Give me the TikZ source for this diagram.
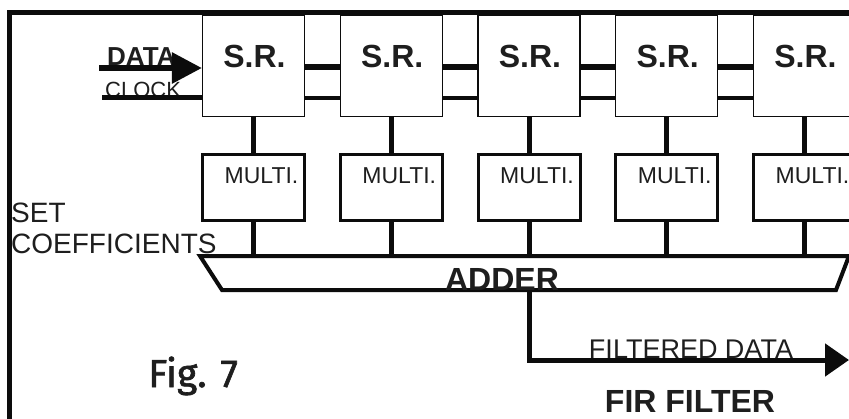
\documentclass[tikz,border=0pt]{standalone}
\usepackage{fontspec}
\setmainfont{Liberation Sans}
\newfontfamily\figfont{Fira Sans}[FakeBold=1.6]
\usepackage{tikz}
\usetikzlibrary{calc,arrows.meta,positioning}
\definecolor{firInk}{RGB}{12,12,12}
\definecolor{firText}{RGB}{30,30,30}

\tikzset{
  srbox/.style={draw=firInk, line width=1.2pt, fill=white, minimum width=102pt, minimum height=101pt, inner sep=0pt},
  mulbox/.style={draw=firInk, line width=3pt, fill=white, minimum width=102pt, minimum height=66pt, inner sep=0pt},
  srlabel/.style={text=firText, inner sep=0pt, font=\fontsize{32}{32}\selectfont\bfseries},
  mullabel/.style={text=firText, inner sep=0pt, font=\fontsize{23}{23}\selectfont},
  databus/.style={firInk, line width=6pt},
  clkbus/.style={firInk, line width=4.5pt},
  tapline/.style={firInk, line width=5pt},
}

\begin{document}
\begin{tikzpicture}[x=1pt, y=-1pt]
\useasboundingbox (0,0) rectangle (849,418);
\fill[white] (0,0) rectangle (849,418);
\clip (0,0) rectangle (849,418);

% outer frame
\draw[firInk, line width=4.5pt] (7,12.5)--(860,12.5);
\draw[firInk, line width=4.5pt] (9.5,10)--(9.5,430);

% shift registers and multipliers
\foreach \i in {1,...,5} {
  \pgfmathsetmacro{\cx}{253.5+137.75*(\i-1)}
  \node[srbox] (sr\i) at (\cx,66) {};
  \node[srlabel, anchor=base] (srt\i) at (\cx+1,67) {S.R.};
  \node[mulbox] (m\i) at (\cx,187.5) {};
  \node[mullabel, anchor=base] (mt\i) at (\cx+8,183) {MULTI.};
}

% adder outline
\coordinate (adtl) at (200,256);
\coordinate (adtr) at (849,256);
\coordinate (adbr) at (836,290);
\coordinate (adbl) at (222,290);
\draw[firInk, line width=4pt, line join=miter] (adtl)--(adtr)--(adbr)--(adbl)--cycle;
\node[text=firText, inner sep=0pt, anchor=base, font=\fontsize{32}{32}\selectfont\bfseries] (adder) at (502,290) {ADDER};

% busses between registers
\foreach \i/\j in {1/2,2/3,3/4,4/5} {
  \draw[databus] ([yshift=-1pt]sr\i.east) -- ([yshift=-1pt]sr\j.west);
  \draw[clkbus] ([yshift=-32pt]sr\i.east) -- ([yshift=-32pt]sr\j.west);
}
\foreach \i in {1,...,5} {
  \draw[tapline] (sr\i.south) -- (m\i.north);
  \draw[tapline] (m\i.south) -- (m\i.south |- adtl);
}

% inputs
\node[text=firText, inner sep=0pt, anchor=base west, font=\fontsize{26}{26}\selectfont\bfseries] (datal) at (107,65) {DATA};
\node[text=firText, inner sep=0pt, anchor=base west, font=\fontsize{22}{22}\selectfont] (clockl) at (105,97) {CLOCK};
\coordinate (din) at (99,68);
\coordinate (cin) at (102,97.5);
\draw[databus, -{Triangle[length=30pt, width=30pt]}] (din) -- (din -| sr1.west);
\draw[clkbus] (cin) -- (cin -| sr1.west);

\node[text=firText, inner sep=0pt, anchor=base west, font=\fontsize{28}{28}\selectfont] (setl) at (11,222) {SET};
\node[text=firText, inner sep=0pt, anchor=base west, font=\fontsize{28}{28}\selectfont] (coefl) at (11,253) {COEFFICIENTS};

% output
\coordinate (fout) at (849,360);
\draw[tapline, -{Triangle[length=24pt, width=32pt]}] (m3.south |- adbl) |- (fout);
\node[text=firText, inner sep=0pt, anchor=base, font=\fontsize{27}{27}\selectfont] (filtl) at (691,358) {FILTERED DATA};
\node[text=firText, inner sep=0pt, anchor=base, font=\fontsize{32}{32}\selectfont\bfseries] (firl) at (690,412) {FIR FILTER};
\node[text=firText, inner sep=0pt, anchor=base west, font=\fontsize{39}{39}\selectfont\figfont] (figl) at (148,387) {Fig.\hspace{14pt}7};
\end{tikzpicture}
\end{document}
